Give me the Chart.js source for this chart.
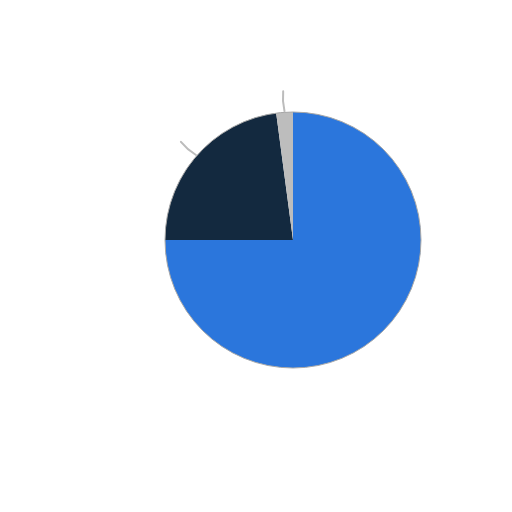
<!DOCTYPE html>
<html>
<head>
<meta charset="utf-8">
<script src="https://cdn.jsdelivr.net/npm/chart.js@4.4.1/dist/chart.umd.min.js"></script>
<style>
  html, body { margin: 0; padding: 0; background: #ffffff; }
  #wrap { width: 512px; height: 512px; }
</style>
</head>
<body>
<div id="wrap"><canvas id="chart1" width="512" height="512"></canvas></div>
<script>
'use strict';

// slice data (clockwise from 12 o'clock)
var sliceLabels = ['Group A', 'Group B', 'Group C'];
var sliceValues = [75.0, 22.9, 2.1];
var sliceColors = ['#2b76dc', '#13293f', '#bdbdbd'];

// draws the thin grey rim round the pie and the short leader lines
// next to the small slices, using the arcs the library laid out
var rimAndLeaders = {
  id: 'rimAndLeaders',
  afterDatasetsDraw: function (chart) {
    var ctx = chart.ctx;
    var arcs = chart.getDatasetMeta(0).data;
    if (!arcs.length) {
      return;
    }
    var first = arcs[0].getProps(['x', 'y', 'outerRadius'], true);

    ctx.save();
    ctx.beginPath();
    ctx.arc(first.x, first.y, first.outerRadius, 0, Math.PI * 2);
    ctx.strokeStyle = '#a8a8a8';
    ctx.lineWidth = 1;
    ctx.stroke();

    var total = sliceValues.reduce(function (s, v) { return s + v; }, 0);
    arcs.forEach(function (arc, i) {
      if (sliceValues[i] / total > 0.3) {
        return;
      }
      var p = arc.getProps(['x', 'y', 'startAngle', 'endAngle', 'outerRadius'], true);
      var mid = (p.startAngle + p.endAngle) / 2;
      var r0 = p.outerRadius + 1;
      var r1 = p.outerRadius + 21;
      var x0 = p.x + Math.cos(mid) * r0, y0 = p.y + Math.sin(mid) * r0;
      var x1 = p.x + Math.cos(mid) * r1, y1 = p.y + Math.sin(mid) * r1;
      // only a slight sideways bend, like the original
      var rm = (r0 + r1) / 2;
      var bend = mid - 0.012;
      var cx = p.x + Math.cos(bend) * rm, cy = p.y + Math.sin(bend) * rm;
      ctx.beginPath();
      ctx.moveTo(x0, y0);
      ctx.quadraticCurveTo(cx, cy, x1, y1);
      ctx.strokeStyle = '#bcbcbc';
      ctx.lineWidth = 2;
      ctx.lineCap = 'round';
      ctx.stroke();
    });
    ctx.restore();
  }
};

function renderChart() {
  var ctx = document.getElementById('chart1').getContext('2d');
  return new Chart(ctx, {
    type: 'pie',
    data: {
      labels: sliceLabels,
      datasets: [{
        data: sliceValues,
        backgroundColor: sliceColors,
        borderWidth: 0,
        hoverOffset: 0
      }]
    },
    options: {
      responsive: false,
      animation: false,
      layout: {
        padding: { left: 165, right: 91, top: 112, bottom: 144 }
      },
      plugins: {
        legend: { display: false },
        tooltip: { enabled: false }
      }
    },
    plugins: [rimAndLeaders]
  });
}

renderChart();
</script>
</body>
</html>
